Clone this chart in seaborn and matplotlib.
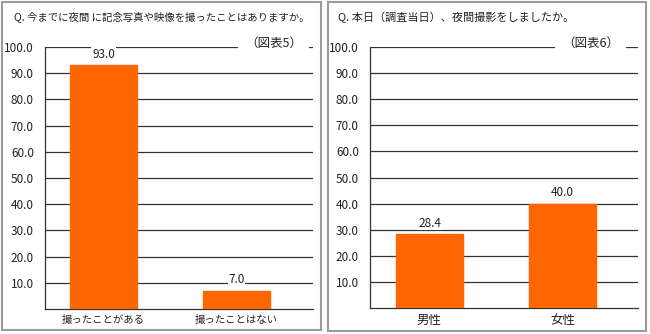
import matplotlib
matplotlib.use("Agg")
import matplotlib.pyplot as plt
import seaborn as sns
import pandas as pd
from matplotlib.patches import Rectangle

sns.set_theme(style="white")
plt.rcParams['font.family'] = ['Noto Sans CJK JP', 'DejaVu Sans']

# Data
cats1 = ["撮ったことがある", "撮ったことはない"]
vals1 = [93.0, 7.0]
title1 = "Q. 今までに夜間 に記念写真や映像を撮ったことはありますか。"
fig_label1 = "（図表5）"

cats2 = ["男性", "女性"]
vals2 = [28.4, 40.0]
title2 = "Q. 本日（調査当日）、夜間撮影をしましたか。"
fig_label2 = "（図表6）"

yticks = [10, 20, 30, 40, 50, 60, 70, 80, 90, 100]

W, H = 650, 334
fig = plt.figure(figsize=(W / 100, H / 100), dpi=100)
fig.patch.set_facecolor("white")

BAR = "#FF6600"
GRID = "#333333"


def px_rect(x0, y0, x1, y1):
    return [x0 / W, 1 - y1 / H, (x1 - x0) / W, (y1 - y0) / H]


# Panel borders
for (x0, y0, x1, y1) in [(2, 2, 321, 330), (328, 2, 646, 331)]:
    fig.patches.append(Rectangle((x0 / W, 1 - y1 / H), (x1 - x0) / W, (y1 - y0) / H,
                                 transform=fig.transFigure, fill=False,
                                 edgecolor="#9a9a9a", linewidth=1.5))


def draw(ax_rect, cats, vals, title, title_x, tsize, label, label_x, xlim, xsize):
    ax = fig.add_axes(px_rect(*ax_rect))
    df = pd.DataFrame({"cat": cats, "val": vals})
    sns.barplot(data=df, x="cat", y="val", ax=ax, color=BAR, saturation=1,
                width=0.5, edgecolor=BAR, zorder=3)
    ax.set_ylim(0, 100)
    ax.set_xlim(*xlim)
    ax.set_yticks(yticks)
    ax.set_yticklabels([f"{t:.1f}" for t in yticks])
    ax.tick_params(axis="y", length=0, labelsize=8.5, pad=8, labelcolor="#222222")
    ax.tick_params(axis="x", length=0, labelsize=xsize, pad=4, labelcolor="#222222")
    for t in yticks:
        ax.axhline(t, color=GRID, linewidth=0.9, zorder=1)
    for s in ["top", "right"]:
        ax.spines[s].set_visible(False)
    ax.spines["left"].set_color(GRID)
    ax.spines["bottom"].set_color(GRID)
    ax.spines["left"].set_linewidth(0.9)
    ax.spines["bottom"].set_linewidth(0.9)
    ax.set_xlabel("")
    ax.set_ylabel("")
    for i, v in enumerate(vals):
        ax.annotate(f"{v:.1f}", (i, v), xytext=(0, 3), textcoords="offset points",
                    ha="center", va="bottom", fontsize=8.5, color="#222222",
                    bbox=dict(facecolor="white", edgecolor="none", pad=0.5), zorder=5)
    fig.text(title_x / W, 1 - 17 / H, title, fontsize=tsize, ha="left", va="center",
             color="#222222")
    fig.text(label_x / W, 1 - 43 / H, label, fontsize=9, ha="left", va="center",
             color="#222222",
             bbox=dict(facecolor="white", edgecolor="none", pad=5), zorder=10)
    return ax


draw((45, 47, 313, 309), cats1, vals1, title1, 14, 7.5, fig_label1, 245,
     (-0.44, 1.575), 7.5)
draw((370, 47, 638, 308), cats2, vals2, title2, 338, 8, fig_label2, 562,
     (-0.447, 1.568), 9)

fig.savefig("out.png", dpi=100)
